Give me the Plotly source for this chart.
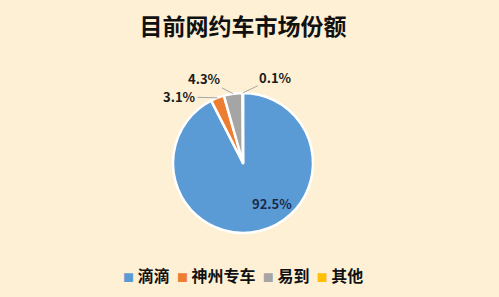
import math
import plotly.graph_objects as go

labels = ["滴滴", "神州专车", "易到", "其他"]
values = [92.5, 3.1, 4.3, 0.1]
colors = ["#5B9BD5", "#ED7D31", "#A5A5A5", "#FFC000"]
title = "目前网约车市场份额"

FONT = "Noto Sans CJK SC"
W, H = 499, 297
CX, CY, R = 243, 163, 70  # pie centre / radius in pixels (layout)

dom_x = [(CX - R) / W, (CX + R) / W]
dom_y = [1 - (CY + R) / H, 1 - (CY - R) / H]

fig = go.Figure(go.Pie(
    labels=labels,
    values=values,
    sort=False,
    direction="clockwise",
    rotation=0,
    marker=dict(colors=colors, line=dict(color="white", width=2.5)),
    textinfo="none",
    showlegend=False,
    hole=0,
    domain=dict(x=dom_x, y=dom_y),
))

# data labels, anchored on each slice's mid-angle on the rim
total = sum(values)
cum = 0.0
# text offsets (px) for each label relative to its slice rim point
offsets = [None, (-38, -1), (-29, -15), (33, -16)]
for i, v in enumerate(values):
    frac = (cum + v / 2) / total
    cum += v
    th = 2 * math.pi * frac
    txt = f"<b>{v / total * 100:.1f}%</b>"
    if offsets[i] is None:
        fig.add_annotation(x=CX / W, y=1 - CY / H, xref="paper", yref="paper",
                           text=txt, showarrow=False, xshift=29, yshift=-40,
                           font=dict(family=FONT, size=13, color="#1B2A48"))
        continue
    px = CX + R * math.sin(th)
    py = CY - R * math.cos(th)
    ax, ay = offsets[i]
    fig.add_annotation(x=px / W, y=1 - py / H, xref="paper", yref="paper",
                       text=txt, showarrow=True, arrowhead=0, arrowwidth=1,
                       arrowcolor="#A6A6A6", ax=ax, ay=ay, standoff=0,
                       font=dict(family=FONT, size=13, color="#1A1A1A"))

# legend
items = [f"<span style='color:{c};font-size:11px'>■</span> {l}" for l, c in zip(labels, colors)]
fig.add_annotation(x=CX / W, y=1 - 275 / H, xref="paper", yref="paper",
                   text="<b>" + "  ".join(items) + "</b>", showarrow=False,
                   xanchor="center", yanchor="middle",
                   font=dict(family=FONT, size=16, color="#111"))

fig.update_layout(
    width=W, height=H,
    paper_bgcolor="#FDF0D5",
    plot_bgcolor="#FDF0D5",
    margin=dict(l=0, r=0, t=0, b=0),
    title=dict(text="<b>" + title + "</b>", x=CX / W, xanchor="center",
               y=1 - 27 / H, yanchor="middle",
               font=dict(family=FONT, size=23, color="#111")),
    font=dict(family=FONT),
)

fig.write_html("out.html")
